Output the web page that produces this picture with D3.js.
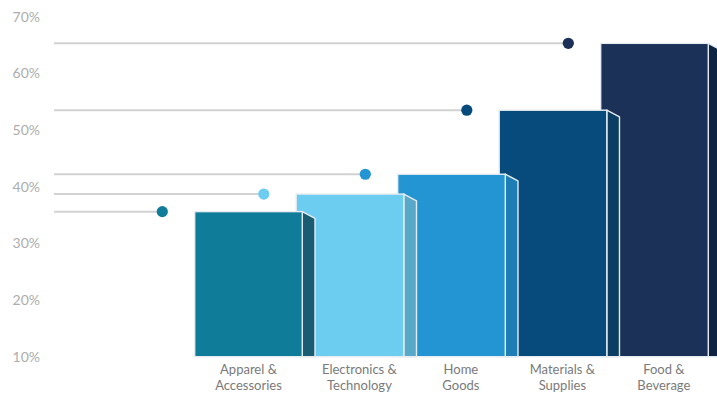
<!DOCTYPE html>
<html>
<head>
<meta charset="utf-8">
<script src="https://cdn.jsdelivr.net/npm/d3@7"></script>
<style>
  html, body { margin: 0; padding: 0; background: #ffffff; }
  svg { display: block; font-family: Lato, "Open Sans", sans-serif; }
</style>
</head>
<body>
<svg id="chart" width="717" height="395"></svg>
<script>
// Category data
const categories = [
  ["Apparel &", "Accessories"],
  ["Electronics &", "Technology"],
  ["Home", "Goods"],
  ["Materials &", "Supplies"],
  ["Food &", "Beverage"]
];
const values = [35.6, 38.7, 42.2, 53.5, 65.3];
const frontColors = ["#0f7d99", "#6dcdf1", "#2495d3", "#074b7c", "#1b3157"];
const sideColors  = ["#1a5d72", "#58a8ca", "#1d7db4", "#0c3d63", "#0f2343"];
const tickValues = [10, 20, 30, 40, 50, 60, 70];

const svg = d3.select("#chart");
const keys = d3.range(categories.length);

const x = d3.scaleBand().domain(keys).range([194.7, 702.2]).paddingInner(0).paddingOuter(0);
const y = d3.scaleLinear().domain([10, 70]).range([356.7, 16.7]);

const frontW = x.bandwidth() * 1.06;
const sideW = 12.7;
const bevel = 6.7;
const base = y(10);

// Y-axis tick labels
const yAxis = d3.axisLeft(y).tickValues(tickValues).tickFormat(d => d + "%").tickSize(0).tickPadding(0);
const axisG = svg.append("g").attr("transform", "translate(40,0)").call(yAxis);
axisG.select(".domain").remove();
axisG.selectAll("text")
  .attr("font-size", 14)
  .attr("font-family", "Lato, 'Open Sans', sans-serif")
  .attr("fill", "#adadad");

// Leader lines to value dots
const dotX = i => x(i) - 32.4;
svg.append("g").selectAll("line").data(keys).join("line")
  .attr("x1", 54)
  .attr("x2", i => dotX(i))
  .attr("y1", i => y(values[i]))
  .attr("y2", i => y(values[i]))
  .attr("stroke", "#d2d2d2")
  .attr("stroke-width", 2);

svg.append("g").selectAll("circle").data(keys).join("circle")
  .attr("cx", i => dotX(i))
  .attr("cy", i => y(values[i]))
  .attr("r", 5.6)
  .attr("fill", i => frontColors[i]);

// 3D bars: drawn back to front so each bar overlaps the one to its right
const bars = svg.append("g").selectAll("g.bar").data(keys.slice().reverse()).join("g").attr("class", "bar");

bars.append("path")
  .attr("d", i => {
    const x0 = x(i) + frontW, t = y(values[i]);
    return `M${x0},${t} L${x0 + sideW},${t + bevel} L${x0 + sideW},${base} L${x0},${base} Z`;
  })
  .attr("fill", i => sideColors[i])
  .attr("stroke", "#e6ecf1")
  .attr("stroke-width", 1.4)
  .attr("stroke-linejoin", "round");

bars.append("rect")
  .attr("x", i => x(i))
  .attr("y", i => y(values[i]))
  .attr("width", frontW)
  .attr("height", i => base - y(values[i]))
  .attr("fill", i => frontColors[i])
  .attr("stroke", "#e6ecf1")
  .attr("stroke-width", 1.4);

// Category labels, centred on the visible part of each bar's front face
const labelX = i => {
  const left = i === 0 ? x(i) : Math.max(x(i), x(i - 1) + frontW + sideW);
  return (left + x(i) + frontW) / 2;
};
const labels = svg.append("g").selectAll("text").data(keys).join("text")
  .attr("text-anchor", "middle")
  .attr("font-size", 13)
  .attr("fill", "#7a7a7a");
labels.append("tspan").attr("x", labelX).attr("y", 373.5).text(i => categories[i][0]);
labels.append("tspan").attr("x", labelX).attr("y", 390).text(i => categories[i][1]);
</script>
</body>
</html>
